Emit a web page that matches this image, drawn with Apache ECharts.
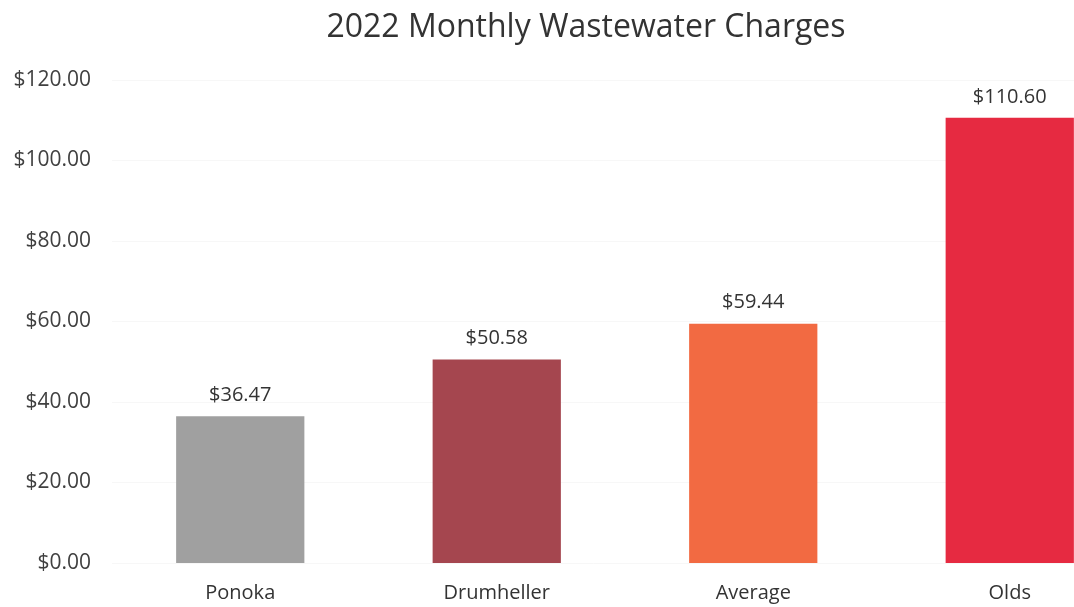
<!DOCTYPE html>
<html>
<head>
<meta charset="utf-8">
<script src="https://cdn.jsdelivr.net/npm/echarts@6/dist/echarts.min.js"></script>
<style>
  html, body { margin: 0; padding: 0; background: #fff; }
  #chart { width: 1074px; height: 607px; }
</style>
</head>
<body>
<div id="chart"></div>
<script>
// values
const towns = ["Ponoka", "Drumheller", "Average", "Olds"];
const charges = [36.47, 50.58, 59.44, 110.60];
const barColors = ["#a0a0a0", "#a5464f", "#f26a42", "#e62a41"];

const chart = echarts.init(document.getElementById("chart"));
const money = (v) => "$" + v.toFixed(2);

chart.setOption({
  backgroundColor: "#ffffff",
  textStyle: { fontFamily: "Open Sans" },
  title: {
    text: "2022 Monthly Wastewater Charges",
    left: 581, top: 7, textAlign: "center",
    textStyle: { fontSize: 32, fontWeight: "normal", color: "#333333", fontFamily: "Open Sans" },
  },
  // plot area runs past the right edge, like the cropped original
  grid: { left: 112, top: 80, width: 1026, height: 483, outerBoundsMode: "none", containLabel: false },
  xAxis: {
    type: "category",
    data: towns,
    axisLine: { show: false },
    axisTick: { show: false },
    axisLabel: { fontSize: 20, color: "#333333", margin: 20 },
  },
  yAxis: {
    type: "value",
    min: 0, max: 120, interval: 20,
    axisLine: { show: false },
    axisTick: { show: false },
    splitLine: { lineStyle: { color: "#f7f7f7" } },
    axisLabel: { fontSize: 21, color: "#404040", margin: 21, formatter: (v) => money(v) },
  },
  series: [{
    type: "bar",
    barWidth: "50%",
    data: charges.map((v, i) => ({ value: v, itemStyle: { color: barColors[i] } })),
    label: {
      show: true, position: "top", distance: 11,
      fontSize: 20, color: "#333333",
      formatter: (p) => money(p.value),
    },
  }],
});
</script>
</body>
</html>
